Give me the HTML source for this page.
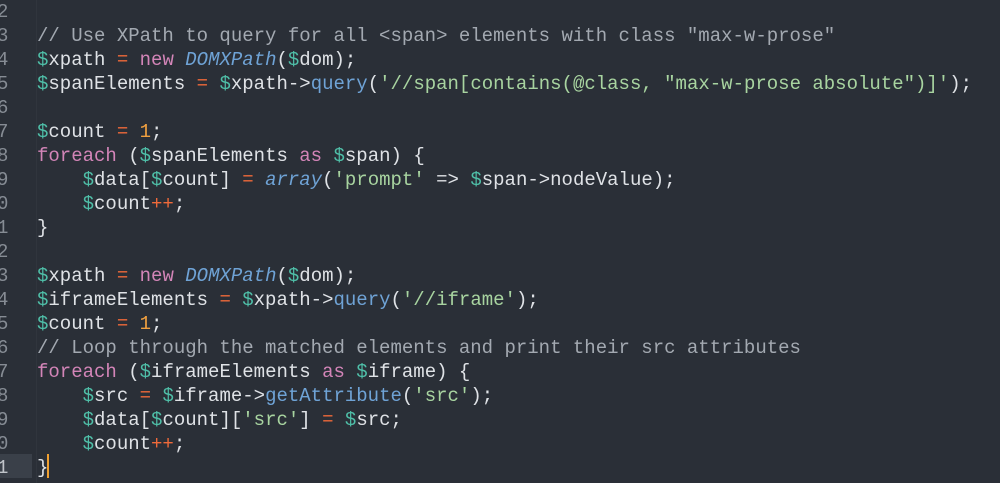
<!DOCTYPE html>
<html><head><meta charset="utf-8"><style>
html,body{margin:0;padding:0;width:1000px;height:483px;overflow:hidden;background:#2a2f37;}
.l{position:absolute;left:0;height:24px;line-height:24px;font-family:"Liberation Mono",monospace;font-size:19px;color:#dfe2e6;white-space:pre;}
.n{position:absolute;left:-3px;width:14px;color:#868c94;}
.c{position:absolute;left:37px;}
.cm{color:#a3a9b1}.v{color:#4fbfa8}.o{color:#ef6a3a}.k{color:#d385b8}.f{color:#6fa3d6;font-style:italic}.m{color:#6fa3d6}.s{color:#a8d4a0}.num{color:#f0a040}
#hl{position:absolute;left:0;top:454px;width:32px;height:24px;background:#3a4049}
#cur{position:absolute;left:47px;top:454px;width:2px;height:24px;background:#f0a030}
#g{position:absolute;left:36px;top:0;width:1px;height:483px;background:#30353d}
</style></head><body>
<div id="g"></div><div id="hl"></div>
<div class="l" style="top:0px"><span class="n">2</span></div>
<div class="l" style="top:24px"><span class="n">3</span><span class="c"><span class="cm">// Use XPath to query for all &lt;span&gt; elements with class "max-w-prose"</span></span></div>
<div class="l" style="top:48px"><span class="n">4</span><span class="c"><span class="v">$</span>xpath <span class="o">=</span> <span class="k">new</span> <span class="f">DOMXPath</span>(<span class="v">$</span>dom);</span></div>
<div class="l" style="top:72px"><span class="n">5</span><span class="c"><span class="v">$</span>spanElements <span class="o">=</span> <span class="v">$</span>xpath-&gt;<span class="m">query</span>(<span class="s">'//span[contains(@class, "max-w-prose absolute")]'</span>);</span></div>
<div class="l" style="top:96px"><span class="n">6</span></div>
<div class="l" style="top:120px"><span class="n">7</span><span class="c"><span class="v">$</span>count <span class="o">=</span> <span class="num">1</span>;</span></div>
<div class="l" style="top:144px"><span class="n">8</span><span class="c"><span class="k">foreach</span> (<span class="v">$</span>spanElements <span class="k">as</span> <span class="v">$</span>span) {</span></div>
<div class="l" style="top:168px"><span class="n">9</span><span class="c">    <span class="v">$</span>data[<span class="v">$</span>count] <span class="o">=</span> <span class="f">array</span>(<span class="s">'prompt'</span> =&gt; <span class="v">$</span>span-&gt;nodeValue);</span></div>
<div class="l" style="top:192px"><span class="n">0</span><span class="c">    <span class="v">$</span>count<span class="o">++</span>;</span></div>
<div class="l" style="top:216px"><span class="n">1</span><span class="c">}</span></div>
<div class="l" style="top:240px"><span class="n">2</span></div>
<div class="l" style="top:264px"><span class="n">3</span><span class="c"><span class="v">$</span>xpath <span class="o">=</span> <span class="k">new</span> <span class="f">DOMXPath</span>(<span class="v">$</span>dom);</span></div>
<div class="l" style="top:288px"><span class="n">4</span><span class="c"><span class="v">$</span>iframeElements <span class="o">=</span> <span class="v">$</span>xpath-&gt;<span class="m">query</span>(<span class="s">'//iframe'</span>);</span></div>
<div class="l" style="top:312px"><span class="n">5</span><span class="c"><span class="v">$</span>count <span class="o">=</span> <span class="num">1</span>;</span></div>
<div class="l" style="top:336px"><span class="n">6</span><span class="c"><span class="cm">// Loop through the matched elements and print their src attributes</span></span></div>
<div class="l" style="top:360px"><span class="n">7</span><span class="c"><span class="k">foreach</span> (<span class="v">$</span>iframeElements <span class="k">as</span> <span class="v">$</span>iframe) {</span></div>
<div class="l" style="top:384px"><span class="n">8</span><span class="c">    <span class="v">$</span>src <span class="o">=</span> <span class="v">$</span>iframe-&gt;<span class="m">getAttribute</span>(<span class="s">'src'</span>);</span></div>
<div class="l" style="top:408px"><span class="n">9</span><span class="c">    <span class="v">$</span>data[<span class="v">$</span>count][<span class="s">'src'</span>] <span class="o">=</span> <span class="v">$</span>src;</span></div>
<div class="l" style="top:432px"><span class="n">0</span><span class="c">    <span class="v">$</span>count<span class="o">++</span>;</span></div>
<div class="l" style="top:456px"><span class="n" style="color:#c0c4ca">1</span><span class="c">}</span></div>
<div id="cur"></div>
</body></html>
